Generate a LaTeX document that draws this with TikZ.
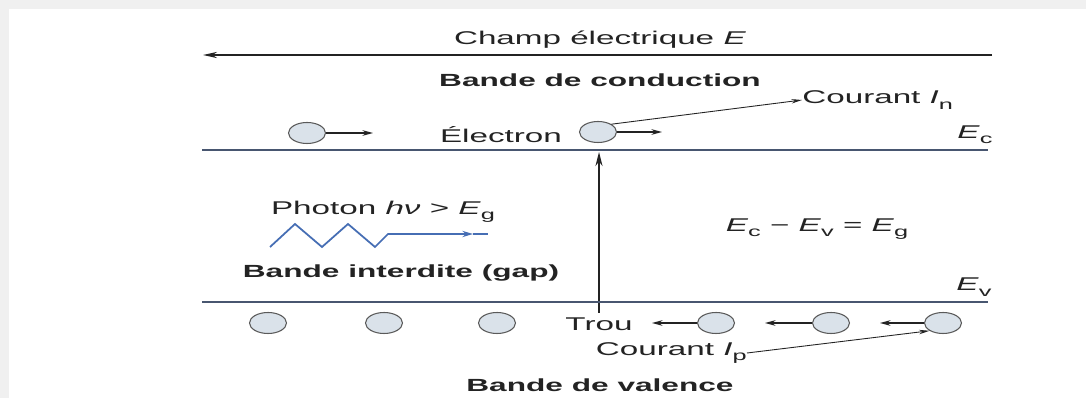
\documentclass[tikz,border=0pt]{standalone}
\usepackage{fontspec}
\setmainfont[FakeStretch=1.8]{Liberation Sans}
\usetikzlibrary{shapes.geometric,arrows.meta}
\definecolor{bandline}{RGB}{72,86,112}
\definecolor{partfill}{RGB}{218,226,234}
\definecolor{partdraw}{RGB}{90,90,90}
\definecolor{photonc}{RGB}{70,110,180}
\definecolor{bgstrip}{RGB}{240,240,240}
\definecolor{ink}{RGB}{35,35,35}
\newcommand\lowsub[1]{\raisebox{-0.55ex}{\fontsize{8}{8}\selectfont #1}}
\begin{document}
\begin{tikzpicture}[x=0.02cm,y=-0.02cm,
  lbl/.style={inner sep=0pt,font=\fontsize{10.5}{12}\selectfont,text=ink},
  boldlbl/.style={inner sep=0pt,font=\fontsize{10}{12}\selectfont\bfseries,text=ink},
  part/.style={ellipse,draw=partdraw,fill=partfill,line width=0.6pt,minimum width=0.74cm,minimum height=0.42cm,inner sep=0pt},
  band/.style={draw=bandline,line width=1.1pt},
  tip/.style={draw=ink,line width=0.7pt,-{Stealth[length=6pt,width=3.2pt]}},
  thin/.style={draw=ink,line width=0.5pt},
]
\useasboundingbox (0,0) rectangle (1086,398);
\fill[bgstrip] (0,0) rectangle (1086,398);
\fill[white] (9,9) rectangle (1086,398);

% electric field
\coordinate (fR) at (992,55);
\coordinate (fL) at (203,55);
\draw[draw=ink,line width=1pt,-{Stealth[length=8pt,width=3.5pt]}] (fR) -- (fL);
\node[lbl] (champ) at (600,40) {Champ électrique \textit{E}};
\node[boldlbl] (bc) at (600,80) {Bande de conduction};

% conduction band edge
\coordinate (ecL) at (202,150);
\coordinate (ecR) at (988,150);
\draw[band] (ecL) -- (ecR);
\node[lbl] (Ec) at (975,135) {\textit{E}\lowsub{c}};

% electrons
\node[part] (e1) at (307,133) {};
\coordinate (e1a) at (373,133);
\draw[tip] (e1.east) -- (e1a);
\node[lbl] (electron) at (501,135) {Électron};
\node[part] (e2) at (598,132) {};
\coordinate (e2a) at (662,132);
\draw[tip] (e2.east) -- (e2a);
\node[lbl,anchor=west] (In) at (802,100) {Courant \textit{I}\lowsub{n}};
\draw[thin,-{Stealth[length=6pt,width=2.5pt]}] (e2.north east) -- (In.west);

% vertical transition arrow
\coordinate (vb) at (599,313);
\coordinate (vt) at (599,152);
\draw[draw=ink,line width=0.9pt,-{Stealth[length=8pt,width=4pt]}] (vb) -- (vt);

% photon
\node[lbl] (photon) at (383,212) {Photon \textit{hν} > \textit{E}\lowsub{g}};
\coordinate (ph0) at (270,247);
\coordinate (ph1) at (473,234);
\coordinate (ph2) at (488,234);
\draw[draw=photonc,line width=1pt,-{Stealth[length=6pt,width=3.5pt]}]
  (ph0) -- (295,224) -- (322,247) -- (348,224) -- (375,247) -- (388,234) -- (ph1);
\draw[draw=photonc,line width=1pt] (ph1) -- (ph2);
\node[boldlbl] (gap) at (401,273) {Bande interdite (gap)};
\node[lbl] (eq) at (817,229) {\textit{E}\lowsub{c} − \textit{E}\lowsub{v} = \textit{E}\lowsub{g}};

% valence band edge
\coordinate (evL) at (202,302);
\coordinate (evR) at (988,302);
\draw[band] (evL) -- (evR);
\node[lbl] (Ev) at (974,287) {\textit{E}\lowsub{v}};

% holes / valence electrons
\node[part] (h1) at (268,323) {};
\node[part] (h2) at (384,323) {};
\node[part] (h3) at (497,323) {};
\node[lbl] (trou) at (599,324) {Trou};
\node[part] (h4) at (716,323) {};
\node[part] (h5) at (831,323) {};
\node[part] (h6) at (943,323) {};
\coordinate (a4) at (652,323);
\coordinate (a5) at (765,323);
\coordinate (a6) at (880,323);
\draw[tip] (h4.west) -- (a4);
\draw[tip] (h5.west) -- (a5);
\draw[tip] (h6.west) -- (a6);
\node[lbl,anchor=east] (Ip) at (747,353) {Courant \textit{I}\lowsub{p}};
\draw[thin,-{Stealth[length=6pt,width=2.5pt]}] (Ip.east) -- (h6.south west);
\node[boldlbl] (bv) at (600,385) {Bande de valence};
\end{tikzpicture}
\end{document}
